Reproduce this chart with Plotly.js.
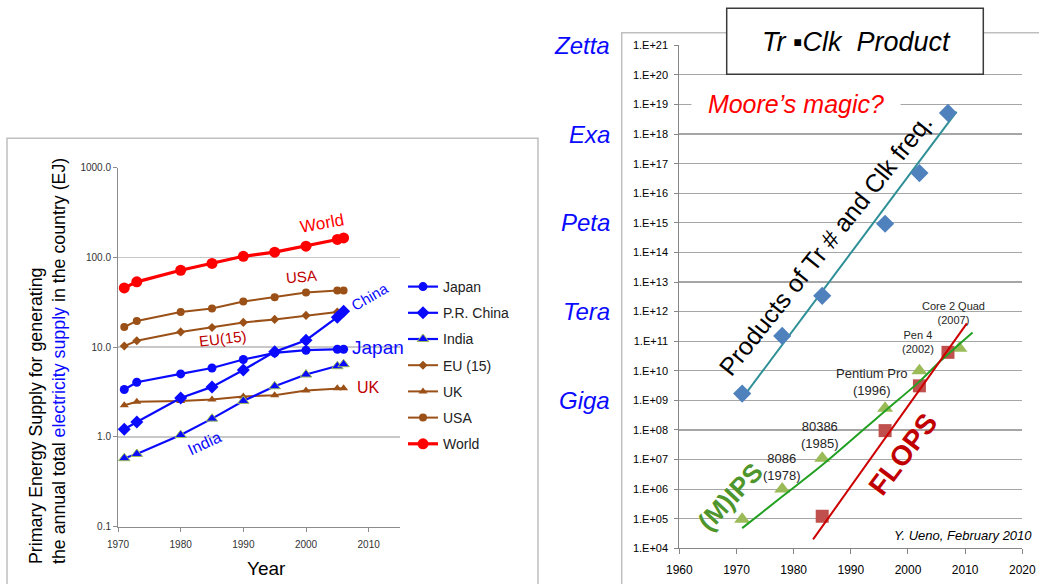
<!DOCTYPE html>
<html>
<head>
<meta charset="utf-8">
<script src="https://cdn.plot.ly/plotly-3.0.1.min.js"></script>
<style>
  html, body { margin: 0; padding: 0; background: #ffffff; }
  #chart { width: 1039px; height: 584px; }
</style>
</head>
<body>
<div id="chart"></div>
<script>
// ---------- Left panel: primary energy for electricity (EJ) ----------
const energyYears = [1971, 1973, 1980, 1985, 1990, 1995, 2000, 2005, 2006];
const japanEJ = [3.38, 4.07, 5.04, 5.87, 7.29, 8.64, 9.26, 9.5, 9.5];
const chinaEJ = [1.22, 1.47, 2.72, 3.61, 5.58, 8.87, 11.97, 21.6, 25.2];
const indiaEJ = [0.58, 0.646, 1.05, 1.6, 2.52, 3.67, 4.96, 6.14, 6.46];
const eu15EJ = [10.3, 11.8, 14.8, 16.6, 18.9, 20.4, 22.6, 24.6, 25.2];
const ukEJ = [2.26, 2.46, 2.52, 2.61, 2.82, 2.92, 3.29, 3.49, 3.49];
const usaEJ = [16.8, 19.6, 24.6, 27.0, 32.3, 36.1, 40.7, 42.9, 42.9];
const worldEJ = [45.8, 53.5, 72, 85.8, 103, 114.5, 133.6, 158.6, 165];
const energyTickVals = [0.1, 1, 10, 100, 1000];
const energyTickText = ['0.1', '1.0', '10.0', '100.0', '1000.0'];

// ---------- Right panel: Tr x Clk product, (M)IPS, FLOPS ----------
const trClkYears = [1971, 1978, 1985, 1996, 2002, 2007];
const trClkVals = [1.7e9, 1.5e11, 3.4e12, 9.3e14, 4.8e16, 5.2e18];
const trClkTrendYears = [1971, 2008.5];
const trClkTrendVals = [1.17e9, 5.75e18];

const mipsYears = [1971, 1978, 1985, 1996, 2002, 2009];
const mipsVals = [9.6e4, 1.0e6, 1.1e7, 5.4e8, 1.0e10, 5.8e10];
const mipsTrendYears = [1971, 1978, 1985, 1996, 2002, 2005, 2011.3];
const mipsTrendVals = [4.8e4, 5.6e5, 6.5e6, 4.4e8, 4.3e9, 1.6e10, 1.95e11];

const flopsYears = [1985, 1996, 2002, 2007];
const flopsVals = [1.2e5, 9.5e7, 3.1e9, 4.2e10];
const flopsTrendYears = [1983.4, 2010.3];
const flopsTrendVals = [2.0e4, 4.0e11];

const powerTickVals = [];
const powerTickText = [];
for (let e = 4; e <= 21; e++) {
  powerTickVals.push(Math.pow(10, e));
  powerTickText.push('1.E+' + (e < 10 ? '0' + e : e));
}
const prefixNames = ['Zetta', 'Exa', 'Peta', 'Tera', 'Giga'];
const prefixVals = [1e21, 1e18, 1e15, 1e12, 1e9];

// ---------- helpers: page pixels -> paper fractions ----------
const W = 1039, H = 584;
const px = x => x / W;
const py = y => 1 - y / H;

const FONT = 'Liberation Sans, Arial, sans-serif';
const BLUE = '#0a0aff';
const BROWN = '#9a5016';
const RED = '#ff0000';
const DARKRED = '#c00000';

function energyTrace(name, y, color, symbol, size, width, rank, extra) {
  const t = {
    x: energyYears, y: y, name: name, type: 'scatter', mode: 'lines+markers',
    xaxis: 'x', yaxis: 'y',
    line: { color: color, width: width },
    marker: { color: color, symbol: symbol, size: size },
    legendgroup: name, legendrank: rank, showlegend: true
  };
  if (extra) t.marker.line = extra;
  return t;
}

const traces = [
  energyTrace('UK', ukEJ, BROWN, 'triangle-up', 8, 2, 5),
  energyTrace('EU (15)', eu15EJ, BROWN, 'diamond', 7, 2, 4),
  energyTrace('USA', usaEJ, BROWN, 'circle', 8, 2, 6),
  energyTrace('India', indiaEJ, BLUE, 'triangle-up', 10, 2.2, 3, { color: '#9bbb59', width: 1 }),
  energyTrace('Japan', japanEJ, BLUE, 'circle', 9, 2.2, 1),
  energyTrace('P.R. China', chinaEJ, BLUE, 'diamond', 10, 2.2, 2),
  energyTrace('World', worldEJ, RED, 'circle', 11, 3.2, 7),

  { x: trClkTrendYears, y: trClkTrendVals, type: 'scatter', mode: 'lines', xaxis: 'x2', yaxis: 'y2',
    line: { color: '#2f8f96', width: 2 }, showlegend: false, hoverinfo: 'skip' },
  { x: trClkYears, y: trClkVals, type: 'scatter', mode: 'markers', xaxis: 'x2', yaxis: 'y2',
    marker: { color: '#4f81bd', symbol: 'diamond', size: 14 }, showlegend: false },
  { x: mipsYears, y: mipsVals, type: 'scatter', mode: 'markers', xaxis: 'x2', yaxis: 'y2',
    marker: { color: '#9bbb59', symbol: 'triangle-up', size: 14 }, showlegend: false },
  { x: flopsYears, y: flopsVals, type: 'scatter', mode: 'markers', xaxis: 'x2', yaxis: 'y2',
    marker: { color: '#c0504d', symbol: 'square', size: 13 }, showlegend: false },
  { x: mipsTrendYears, y: mipsTrendVals, type: 'scatter', mode: 'lines', xaxis: 'x2', yaxis: 'y2',
    line: { color: '#22a022', width: 2, shape: 'spline', smoothing: 0.8 }, showlegend: false, hoverinfo: 'skip' },
  { x: flopsTrendYears, y: flopsTrendVals, type: 'scatter', mode: 'lines', xaxis: 'x2', yaxis: 'y2',
    line: { color: '#cc0000', width: 2 }, showlegend: false, hoverinfo: 'skip' }
];

function note(text, x, y, size, color, opts) {
  return Object.assign({
    text: text, xref: 'paper', yref: 'paper', x: px(x), y: py(y),
    xanchor: 'center', yanchor: 'middle', showarrow: false,
    font: { family: FONT, size: size, color: color }
  }, opts || {});
}

const annotations = [
  // left panel labels
  note('Primary Energy Supply for generating<br>the annual total <span style="color:#0a0aff">electricity supply</span> in the country (EJ)',
       47.5, 361.5, 17.8, '#000000', { textangle: -90, align: 'left' }),
  note('Year', 266, 568, 19, '#000000'),
  note('World', 321.7, 223.3, 17, RED, { textangle: -10 }),
  note('USA', 301.7, 276.7, 15, DARKRED, { textangle: -5 }),
  note('EU(15)', 222.7, 338.3, 15, DARKRED, { textangle: -7 }),
  note('China', 370, 296.7, 15, BLUE, { textangle: -30 }),
  note('Japan', 378.3, 347.3, 19, BLUE),
  note('UK', 368.3, 387.7, 16, DARKRED),
  note('India', 204, 443.3, 16, BLUE, { textangle: -25 }),

  // right panel labels
  note('<i>Tr \u25AAClk\u00a0\u00a0Product</i>', 856, 42, 27, '#000000'),
  note('<i>\u00a0\u00a0Moore\u2019s magic?\u00a0\u00a0</i>', 795.5, 104, 25, RED, { bgcolor: '#ffffff', borderpad: 2 }),
  note('Products of Tr # and Clk freq.', 825, 245, 25, '#000000', { textangle: -51.5 }),
  note('<b>(M)IPS</b>', 730, 497, 26, '#4e952c', { textangle: -47 }),
  note('<b>FLOPS</b>', 903, 455, 28, DARKRED, { textangle: -53 }),
  note('8086<br>(1978)', 781.7, 467, 13, '#262626'),
  note('80386<br>(1985)', 820, 434.7, 13, '#262626'),
  note('Pentium Pro<br>(1996)', 871.7, 381.5, 13, '#262626'),
  note('Pen 4<br>(2002)', 918.3, 341.7, 11, '#262626'),
  note('Core 2 Quad<br>(2007)', 953.3, 312.7, 11, '#262626'),
  note('<i>Y. Ueno, February 2010</i>', 1034, 535, 13, '#000000', { xanchor: 'right' })
];

// SI prefix labels beside the right-hand axis
prefixNames.forEach((name, i) => {
  annotations.push({
    text: '<i>' + name + '</i>', xref: 'paper', yref: 'y2', x: px(612), y: Math.log10(prefixVals[i]),
    xanchor: 'right', yanchor: 'middle', showarrow: false,
    font: { family: FONT, size: 24, color: BLUE }
  });
});

const shapes = [
  // panel frames
  { type: 'rect', xref: 'paper', yref: 'paper', x0: px(7), x1: px(538), y0: py(600), y1: py(138.3),
    line: { color: '#bfbfbf', width: 1.5 }, fillcolor: 'rgba(0,0,0,0)', layer: 'below' },
  { type: 'rect', xref: 'paper', yref: 'paper', x0: px(621.7), x1: px(1060), y0: py(600), y1: py(32.7),
    line: { color: '#bfbfbf', width: 1.5 }, fillcolor: 'rgba(0,0,0,0)', layer: 'below' },
  // title box
  { type: 'rect', xref: 'paper', yref: 'paper', x0: px(726.7), x1: px(983.3), y0: py(74.3), y1: py(8.3),
    line: { color: '#3a3a3a', width: 1.5 }, fillcolor: '#ffffff', layer: 'above' }
];

const layout = {
  width: W, height: H,
  margin: { l: 0, r: 0, t: 0, b: 0 },
  paper_bgcolor: '#ffffff', plot_bgcolor: 'rgba(0,0,0,0)',
  font: { family: FONT, color: '#000000' },
  showlegend: true,
  legend: {
    x: px(403), y: py(271), xanchor: 'left', yanchor: 'top',
    font: { family: FONT, size: 14, color: '#222222' },
    traceorder: 'grouped', tracegroupgap: 5, itemsizing: 'trace', itemwidth: 30,
    bgcolor: 'rgba(0,0,0,0)'
  },
  xaxis: {
    domain: [px(118), px(400)], range: [1970, 2015], dtick: 10, tick0: 1970,
    showgrid: false, zeroline: false, showline: true, linecolor: '#8c8c8c', linewidth: 1,
    ticks: 'outside', ticklen: 4, tickcolor: '#8c8c8c', ticklabelstandoff: 4,
    tickfont: { family: FONT, size: 10, color: '#333333' }, anchor: 'y'
  },
  yaxis: {
    domain: [py(526.7), py(167.7)], type: 'log', range: [-1, 3],
    tickvals: energyTickVals, ticktext: energyTickText,
    showgrid: true, gridcolor: '#c8c8c8', gridwidth: 1.5, zeroline: false,
    showline: true, linecolor: '#8c8c8c', linewidth: 1,
    ticks: 'outside', ticklen: 4, tickcolor: '#8c8c8c',
    tickfont: { family: FONT, size: 10, color: '#333333' }, anchor: 'x'
  },
  xaxis2: {
    domain: [px(679.3), px(1022.3)], range: [1960, 2020], dtick: 10, tick0: 1960,
    showgrid: false, zeroline: false, showline: true, linecolor: '#868686', linewidth: 1,
    ticks: 'outside', ticklen: 5, tickcolor: '#868686', ticklabelstandoff: 5,
    tickfont: { family: FONT, size: 12, color: '#000000' }, anchor: 'y2'
  },
  yaxis2: {
    domain: [py(548.3), py(45.3)], type: 'log', range: [4, 21],
    tickvals: powerTickVals, ticktext: powerTickText,
    showgrid: true, gridcolor: '#a6a6a6', gridwidth: 1.2, zeroline: false,
    showline: true, linecolor: '#868686', linewidth: 1,
    ticks: 'outside', ticklen: 4, tickcolor: '#868686', ticklabelstandoff: 4,
    tickfont: { family: FONT, size: 11, color: '#000000' }, anchor: 'x2'
  },
  annotations: annotations,
  shapes: shapes
};

Plotly.newPlot('chart', traces, layout, { displayModeBar: false, staticPlot: true });
</script>
</body>
</html>
